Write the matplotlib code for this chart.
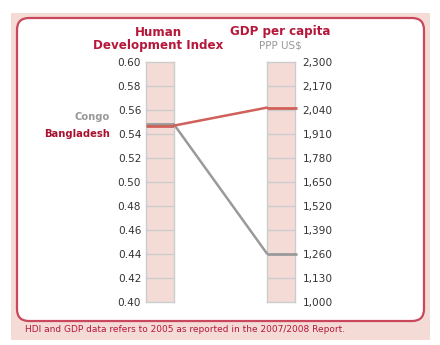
import matplotlib
matplotlib.use("Agg")
import matplotlib.pyplot as plt
from matplotlib.patches import FancyBboxPatch, Rectangle, ConnectionPatch

countries = ["Congo", "Bangladesh"]
hdi = [0.548, 0.547]
gdp = [1262, 2053]
line_colors = ["#9a9a9a", "#d0605a"]
label_colors = ["#999999", "#a8102e"]

hdi_ticks = [0.40, 0.42, 0.44, 0.46, 0.48, 0.50, 0.52, 0.54, 0.56, 0.58, 0.60]
gdp_ticks = [1000, 1130, 1260, 1390, 1520, 1650, 1780, 1910, 2040, 2170, 2300]

W, H = 440, 345
fig = plt.figure(figsize=(W / 100, H / 100), dpi=100)
fig.patch.set_facecolor("white")

red = "#b5183a"
pink = "#f5dbd6"
border = "#c9485c"


def px(x, y):
    # figure fraction from pixel position (origin top-left)
    return x / W, 1 - y / H


# background panel and rounded frame
bg = fig.add_axes([0, 0, 1, 1])
bg.set_xlim(0, W)
bg.set_ylim(H, 0)
bg.axis("off")
bg.add_patch(Rectangle((11, 13), 419, 327, facecolor=pink, edgecolor="none"))
bg.add_patch(FancyBboxPatch((17, 18), 407, 303,
                            boxstyle="round,pad=0,rounding_size=12",
                            facecolor="white", edgecolor=border, linewidth=1.6))
bg.text(25, 329, "HDI and GDP data refers to 2005 as reported in the 2007/2008 Report.",
        color=red, fontsize=6.5, va="center", ha="left")

# titles
bg.text(158, 32, "Human", color=red, fontsize=8.6, fontweight="bold", ha="center", va="center")
bg.text(158, 45, "Development Index", color=red, fontsize=8.6, fontweight="bold",
        ha="center", va="center")
bg.text(280, 32, "GDP per capita", color=red, fontsize=8.6, fontweight="bold",
        ha="center", va="center")
bg.text(280, 45, "PPP US$", color="#999999", fontsize=7.5, ha="center", va="center")


def bar_axes(x0, pad):
    l, b = px(x0, 302)
    ax = fig.add_axes([l, b, 28 / W, 240 / H])
    ax.set_facecolor(pink)
    ax.set_xlim(0, 1)
    for s in ax.spines.values():
        s.set_color("#cccccc")
        s.set_linewidth(1)
    ax.set_xticks([])
    ax.tick_params(axis="y", length=0, labelsize=7.6, labelcolor="#333333", pad=pad)
    return ax


axL = bar_axes(146, 3.5)
axL.set_ylim(0.40, 0.60)
axL.set_yticks(hdi_ticks)
axL.set_yticklabels([f"{t:.2f}" for t in hdi_ticks])
for t in hdi_ticks[1:-1]:
    axL.axhline(t, color="#cccccc", lw=1, zorder=1)

axR = bar_axes(267, 5.5)
axR.set_ylim(1000, 2300)
axR.yaxis.tick_right()
axR.set_yticks(gdp_ticks)
axR.set_yticklabels([f"{t:,}" for t in gdp_ticks])
for t in gdp_ticks[1:-1]:
    axR.axhline(t, color="#cccccc", lw=1, zorder=1)

# country lines: across the HDI bar, to the GDP bar, across it
for name, h, g, lc in zip(countries, hdi, gdp, line_colors):
    axL.plot([0, 1], [h, h], color=lc, lw=2, zorder=3, solid_capstyle="butt")
    axR.plot([0, 1.08], [g, g], color=lc, lw=2, zorder=3, clip_on=False,
             solid_capstyle="butt")
    con = ConnectionPatch(xyA=(1, h), coordsA=axL.transData,
                          xyB=(0, g), coordsB=axR.transData,
                          color=lc, lw=1.8, zorder=3)
    fig.add_artist(con)

bg.text(110, 117, countries[0], color=label_colors[0], fontsize=7.2,
        fontweight="bold", ha="right", va="center")
bg.text(110, 134, countries[1], color=label_colors[1], fontsize=7.2,
        fontweight="bold", ha="right", va="center")

fig.savefig("out.png", dpi=100)
